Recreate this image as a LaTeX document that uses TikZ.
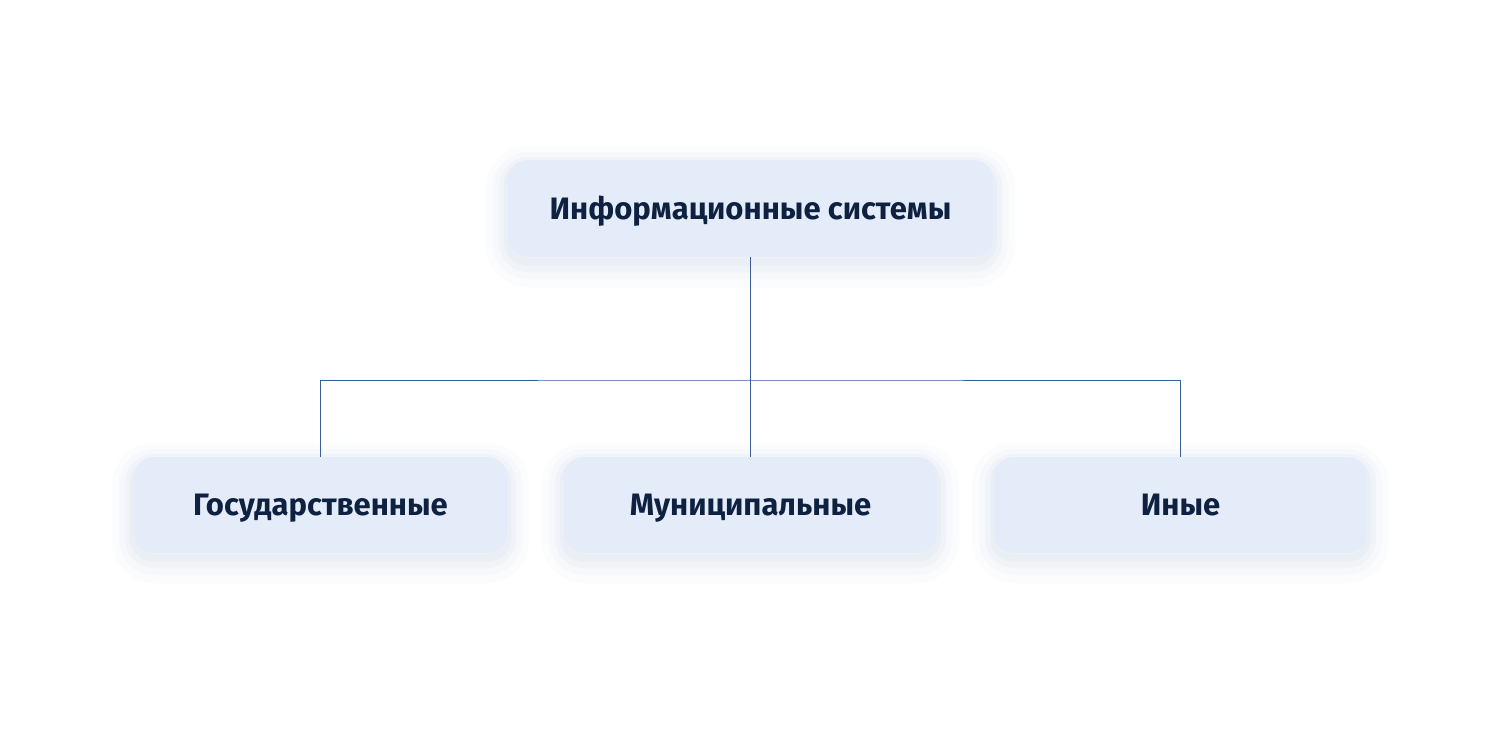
\documentclass[tikz,border=0pt]{standalone}
\usepackage{fontspec}
\setmainfont{Fira Sans}
\definecolor{boxfill}{HTML}{E4ECF9}
\definecolor{boxtext}{HTML}{0F2140}
\definecolor{linkcol}{HTML}{3A5E9A}
\definecolor{shadowcol}{HTML}{8FA6D2}
\begin{document}
\begin{tikzpicture}[x=0.5pt,y=-0.5pt]
  \useasboundingbox[fill=white] (0,0) rectangle (1500,750);
  \tikzstyle{ShadowStyle}=[
    preaction={draw=shadowcol,line width=22pt,opacity=0.03,transform canvas={yshift=-4pt}},
    preaction={draw=shadowcol,line width=15pt,opacity=0.04,transform canvas={yshift=-3.5pt}},
    preaction={draw=shadowcol,line width=9pt,opacity=0.05,transform canvas={yshift=-3pt}},
    preaction={draw=shadowcol,line width=4pt,opacity=0.06,transform canvas={yshift=-2.5pt}}]
  \tikzstyle{BoxStyle}=[ShadowStyle,fill=boxfill,rounded corners=10pt,text=boxtext,
    font=\fontsize{15.5}{18}\selectfont\bfseries,text height=10.5pt,text depth=0pt]
  \tikzstyle{TopStyle}=[BoxStyle,minimum width=242.5pt,minimum height=48.5pt]
  \tikzstyle{LeafStyle}=[BoxStyle,minimum width=186.5pt,minimum height=48pt]
  \tikzstyle{EdgeStyle}=[draw=linkcol,line width=0.5pt]
  \node[TopStyle] (is) at (750.5,208.5) {Информационные системы};
  \node[LeafStyle] (gos) at (320.5,505) {Государственные};
  \node[LeafStyle] (mun) at (750.5,505) {Муниципальные};
  \node[LeafStyle] (in) at (1180.5,505) {Иные};
  \coordinate (hub) at (750.5,380);
  \draw[EdgeStyle] (is) -- (mun);
  \draw[EdgeStyle] (gos) |- (hub) -| (in);
\end{tikzpicture}
\end{document}
